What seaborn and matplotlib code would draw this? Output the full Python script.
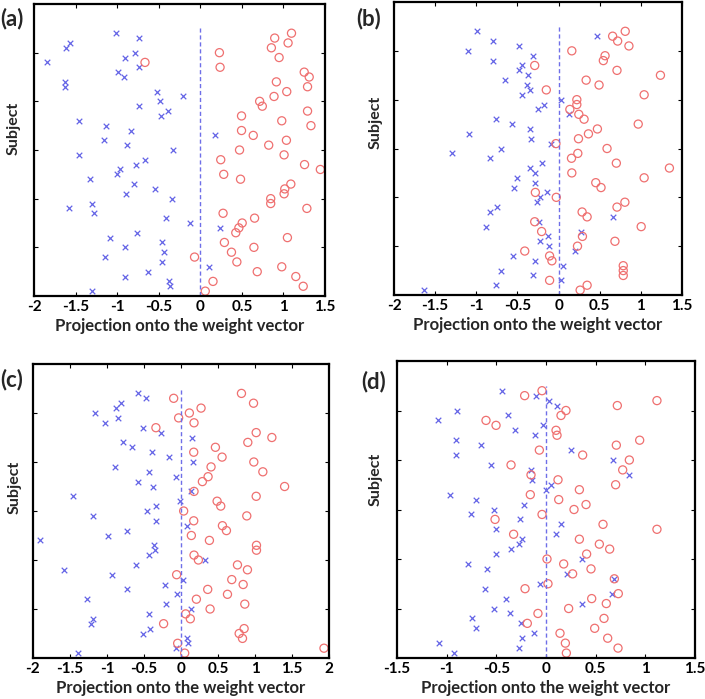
import numpy as np
import pandas as pd
import matplotlib
matplotlib.use("Agg")
import matplotlib.pyplot as plt
import seaborn as sns

sns.set_style("white")
plt.rcParams['font.family'] = ['Lato', 'DejaVu Sans']
plt.rcParams['font.weight'] = 'bold'

# Subject index (top row first)
subjects = list(range(54, 0, -1))

# Panel (a)
a_blue = [-1.008, -0.738, -1.573, -1.621, -0.786, -0.907, -1.847, -0.738, -0.988, -0.919,
          -1.629, -1.633, -0.524, -0.206, -0.484, -0.738, -0.383, -0.476, -1.460, -1.137,
          -0.835, 0.181, -1.157, -0.883, -0.327, -1.460, -0.661, -0.778, -0.968, -0.996,
          -1.331, -0.798, -0.540, -0.895, -0.335, -1.306, -1.581, -1.278, -0.407, -0.129,
          0.238, -0.762, -1.081, -0.460, -0.907, -0.435, -1.145, -0.460, 0.101, -0.633,
          -0.907, -0.375, -0.359, -1.298]
a_red = [1.097, 0.895, 1.056, 0.855, 0.230, 0.948, -0.665, 0.238, 1.250, 1.310,
         0.915, 1.290, 1.040, 0.887, 0.714, 0.746, 1.290, 0.496, 0.980, 1.331,
         0.496, 0.637, 1.036, 0.823, 0.472, 1.008, 0.246, 1.254, 1.444, 0.282,
         0.484, 1.089, 1.016, 1.008, 0.847, 0.847, 1.282, 0.274, 0.653, 0.504,
         0.464, 0.427, 1.048, 0.290, 0.645, 0.375, -0.069, 0.440, 0.980, 0.685,
         1.149, 0.153, 1.238, 0.060]

# Panel (b)
b_blue = [-0.996, 0.472, -0.794, -0.476, -1.097, -0.310, -0.802, -0.440, -0.476, -0.371,
          -0.657, -0.379, -0.351, -0.440, 0.032, -0.181, -0.246, 0.125, -0.762, -0.569,
          -0.351, -1.085, -0.335, -0.097, -0.702, -1.294, -0.839, -0.198, -0.351, -0.290,
          -0.508, -0.290, -0.540, -0.145, -0.226, -0.266, -0.754, -0.839, 0.657, -0.242,
          -0.887, 0.274, -0.133, -0.222, -0.113, 0.198, -0.548, -0.290, 0.048, -0.694,
          -0.310, 0.024, -0.766, -1.641]
b_red = [0.810, 0.657, 0.718, 0.855, 0.161, 0.565, 0.544, -0.290, 0.710, 1.238,
         0.335, 0.492, -0.149, 1.040, 0.222, 0.222, 0.137, 0.246, 0.310, 0.968,
         0.472, 0.363, 0.242, -0.032, 0.589, 0.234, 0.157, 0.702, 1.347, 0.161,
         1.040, 0.452, 0.516, -0.282, -0.028, 0.806, 0.710, 0.286, 0.347, -0.290,
         1.004, -0.206, 0.290, 0.685, 0.230, -0.411, -0.109, -0.081, 0.786, 0.786,
         0.786, -0.109, 0.347, 0.262]

# Panel (c)
c_blue = [-0.578, -0.474, -0.813, -0.876, -1.160, -0.849, -1.029, -0.510, -0.275, 0.153,
          -0.786, -0.668, -0.393, -0.167, 0.163, -0.898, -0.433, -0.072, -0.587, -0.379,
          0.131, -1.454, -0.014, -0.334, -0.465, -1.187, -0.343, 0.086, -0.727, -0.984,
          -1.905, -0.361, -0.352, -0.429, 0.321, -0.609, -1.580, -0.926, 0.032, -0.221,
          -0.731, -0.059, -1.273, -0.199, 0.135, -0.429, -1.183, -1.214, -0.420, -0.515,
          0.077, 0.095, -0.072, -1.391]
c_red = [0.817, -0.099, 0.980, 0.271, 0.113, -0.032, 0.176, -0.339, 1.016, 1.228,
         0.903, 0.465, 0.172, 0.555, 0.984, 0.406, 1.106, 0.366, 0.289, 1.400,
         0.176, 1.016, 0.488, 0.537, 0.036, 0.889, 0.172, 0.560, 0.614, 0.140,
         0.384, 1.020, 1.020, 0.176, 0.235, 0.763, 0.898, -0.059, 0.686, 0.840,
         0.361, 0.628, 0.208, 0.862, 0.393, 0.063, 0.126, -0.235, 0.853, 0.786,
         0.831, -0.045, 1.932, 0.050]

# Panel (d)
d_blue = [-0.443, -0.101, 0.030, 0.114, -0.893, -0.386, -1.084, -0.027, -0.315, -0.107,
          -0.909, -0.651, 0.255, -0.903, 0.674, -0.554, -0.148, 0.839, -0.144, 0.047,
          0.000, -0.963, -0.701, -0.218, -0.520, -0.758, -0.265, 0.154, -0.503, 0.097,
          -0.242, -0.268, -0.352, -0.503, 0.366, -0.789, -0.591, 0.208, 0.688, -0.064,
          -0.617, 0.661, -0.406, 0.366, -0.523, -0.362, -0.742, -0.248, -0.705, -0.124,
          -0.242, -1.081, -0.272, -0.926]
d_red = [-0.040, -0.215, 1.117, 0.718, 0.201, 0.151, -0.604, -0.503, 0.101, 0.111,
         0.943, 0.708, -0.067, 0.369, 0.839, -0.352, 0.772, -0.151, 0.121, 0.701,
         0.336, -0.158, 0.128, 0.403, 0.282, -0.040, -0.513, 0.574, 1.117, -0.326,
         0.336, 0.537, 0.641, 0.409, 0.010, 0.178, 0.453, 0.268, 0.688, 0.020,
         -0.211, 0.728, 0.460, 0.607, 0.228, -0.081, 0.584, -0.188, 0.490, 0.141,
         0.621, 0.195, 0.725, 0.205]

panel_labels = ["(a)", "(b)", "(c)", "(d)"]
thresholds = [0.0, 0.0, 0.0, 0.0]
xlims = [(-2, 1.5), (-2, 1.5), (-2, 2), (-1.5, 1.5)]
xticks = [[-2, -1.5, -1, -0.5, 0, 0.5, 1, 1.5],
          [-2, -1.5, -1, -0.5, 0, 0.5, 1, 1.5],
          [-2, -1.5, -1, -0.5, 0, 0.5, 1, 1.5, 2],
          [-1.5, -1, -0.5, 0, 0.5, 1, 1.5]]
yticks = [10, 20, 30, 40, 50]

blues = [a_blue, b_blue, c_blue, d_blue]
reds = [a_red, b_red, c_red, d_red]

BLUE = "#6464e6"
RED = "#ef7070"
DASH = "#6f6fe8"

W, H = 705, 699
fig = plt.figure(figsize=(W / 100, H / 100), dpi=100)

# pixel boxes (left, right, top, bottom)
boxes = [(34, 325, 4, 296), (394, 682, 2, 295), (33, 329, 364, 658), (397, 695, 361, 658)]
label_pos = [(0, 19), (356, 19), (0, 380), (361, 382)]
ylabel_y = [0.575, 0.59, 0.58, 0.60]
ylabel_x = [-0.045, -0.038, -0.037, -0.047]


def fmt(v):
    return "%g" % v


for i in range(4):
    l, r, t, b = boxes[i]
    ax = fig.add_axes([l / W, 1 - b / H, (r - l) / W, (b - t) / H])
    df_b = pd.DataFrame({"proj": blues[i], "subject": subjects})
    df_r = pd.DataFrame({"proj": reds[i], "subject": subjects})
    sns.scatterplot(data=df_b, x="proj", y="subject", ax=ax, marker="x", s=16,
                    color=BLUE, linewidth=0.9, legend=False)
    sns.scatterplot(data=df_r, x="proj", y="subject", ax=ax, marker="o", s=34,
                    facecolor="none", edgecolor=RED, linewidth=0.9, legend=False)
    ax.plot([thresholds[i], thresholds[i]], [0, 55], linestyle=(0, (3, 2)),
            color=DASH, linewidth=1.0)
    ax.set_xlim(*xlims[i])
    ax.set_ylim(0, 60)
    ax.set_xticks(xticks[i])
    ax.set_xticklabels([fmt(v) for v in xticks[i]], fontsize=11, fontweight="bold")
    ax.set_yticks(yticks)
    ax.set_yticklabels([])
    ax.tick_params(direction="in", length=3, width=0.8, top=True, right=True,
                   bottom=True, left=True, pad=3, colors="black")
    for sp in ax.spines.values():
        sp.set_visible(True)
        sp.set_color("black")
        sp.set_linewidth(1.6)
    ax.set_xlabel("Projection onto the weight vector", fontsize=12, fontweight="bold",
                  labelpad=3)
    ax.set_ylabel("Subject", fontsize=11.5, fontweight="bold")
    ax.yaxis.set_label_coords(ylabel_x[i], ylabel_y[i])
    px, py = label_pos[i]
    fig.text(px / W, 1 - py / H, panel_labels[i], fontsize=16, fontweight="bold",
             ha="left", va="center")

fig.savefig("out.png", dpi=100, facecolor="white")
